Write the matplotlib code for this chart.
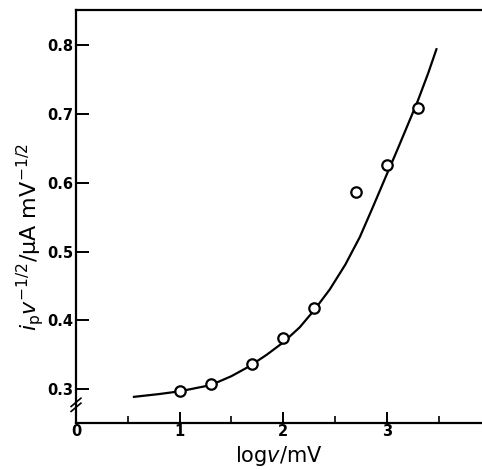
import numpy as np
import matplotlib
matplotlib.use('Agg')
import matplotlib.pyplot as plt
from matplotlib.ticker import FixedLocator

# measured points: log v vs i_p v^-1/2
log_v = [1.0, 1.3, 1.7, 2.0, 2.3, 2.7, 3.0, 3.3]
ip_norm = [0.298, 0.308, 0.337, 0.375, 0.418, 0.586, 0.626, 0.708]

# fitted curve
curve_x = [0.56, 0.8, 1.0, 1.3, 1.5, 1.67, 1.84, 2.0, 2.16, 2.3, 2.45, 2.6,
           2.74, 2.87, 3.0, 3.1, 3.2, 3.3, 3.4, 3.48]
curve_y = [0.289, 0.293, 0.297, 0.306, 0.319, 0.333, 0.350, 0.368, 0.390, 0.415,
           0.445, 0.481, 0.521, 0.566, 0.612, 0.647, 0.683, 0.719, 0.759, 0.794]

yticks = [0.3, 0.4, 0.5, 0.6, 0.7, 0.8]
ytick_labels = ['0.3', '0.4', '0.5', '0.6', '0.7', '0.8']
xticks = [0, 1, 2, 3]
xtick_labels = ['0', '1', '2', '3']

fig = plt.figure(figsize=(4.82, 4.70), dpi=100)
ax = fig.add_axes([76 / 482, 47 / 470, 1 - 76 / 482, 413 / 470])

ax.plot(curve_x, curve_y, '-', color='black', lw=1.6)
ax.plot(log_v, ip_norm, 'o', ms=7.5, mfc='white', mec='black', mew=1.6)

ax.set_xlim(0, 3.92)
ax.set_ylim(0.251, 0.851)

ax.spines['right'].set_visible(False)
for s in ['left', 'bottom', 'top']:
    ax.spines[s].set_linewidth(1.6)

ax.set_yticks(yticks)
ax.set_yticklabels(ytick_labels, fontsize=10.5, fontweight='bold')
ax.set_xticks(xticks)
ax.set_xticklabels(xtick_labels, fontsize=10.5, fontweight='bold')
ax.xaxis.set_minor_locator(FixedLocator([0.5, 1.5, 2.5, 3.5]))
ax.tick_params(axis='y', direction='in', length=9, width=1.4, pad=2)
ax.tick_params(axis='x', which='major', direction='in', length=8, width=1.4, pad=1)
ax.tick_params(axis='x', which='minor', direction='in', length=5, width=1.2)

ax.set_xlabel(r'log$\it{v}$/mV', fontsize=15, labelpad=3)
ax.set_ylabel(r'$i_{\rm p}v^{{-}1/2}$/μA mV$^{-1/2}$', fontsize=16, labelpad=6)
ax.yaxis.set_label_coords(-0.074, 0.45)

# axis break mark on the y axis
for dy in (0.0, 0.012):
    ax.plot([-0.012, 0.012], [0.028 + dy, 0.048 + dy], color='black', lw=1.2,
            transform=ax.transAxes, clip_on=False)

plt.savefig('out.png', dpi=100)
